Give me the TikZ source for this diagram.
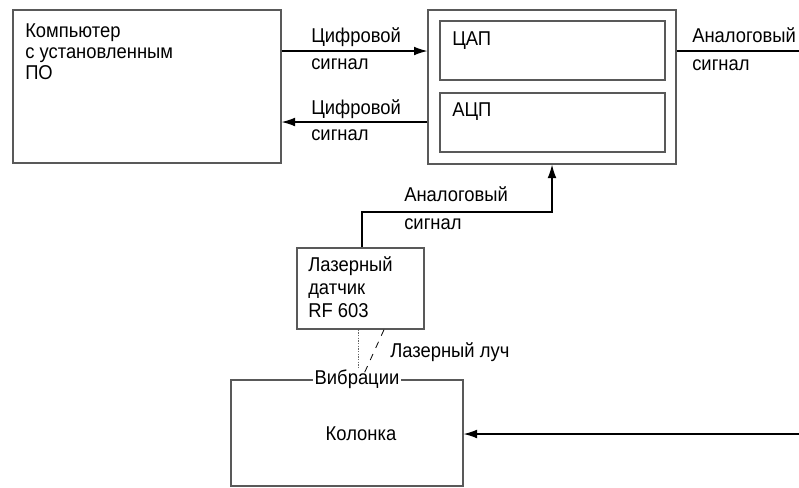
\documentclass[tikz,border=0pt]{standalone}
\usepackage{fontspec}
\setmainfont{Liberation Sans}[FakeStretch=0.92]
\usetikzlibrary{arrows.meta,fit}
\begin{document}
\begin{tikzpicture}[x=0.75pt,y=-0.75pt,
  box/.style={draw=black!65,line width=1pt,inner sep=0pt},
  lbl/.style={anchor=base west,inner sep=0pt,align=left,font=\fontsize{15}{19.5}\selectfont},
  txt/.style={anchor=base west,inner sep=0pt,align=left,font=\fontsize{15}{15.75}\selectfont},
  wire/.style={line width=0.8pt},
  arr/.style={wire,-{Latex[length=10pt,width=6.5pt]}}]
\useasboundingbox[fill=white] (0,0) rectangle (799,487);
% boxes
\node[box,fit={(13,10)(281,163)}] (comp) {};
\node[box,fit={(428,10)(676,164)}] (outer) {};
\node[box,fit={(440,21)(665,80)}] (dac) {};
\node[box,fit={(440,93)(665,152)}] (adc) {};
\node[box,fit={(297,248)(424,329)}] (sensor) {};
\node[box,fit={(231,380)(463,486)}] (kol) {};
% texts (anchor = baseline of the last line)
\node[txt] (tcomp) at (25,79) {Компьютер\\с установленным\\ПО};
\node[txt] (tdac) at (452,45) {ЦАП};
\node[txt] (tadc) at (452,116) {АЦП};
\node[txt,font=\fontsize{15}{16.9}\selectfont] (tsens) at (308,317) {Лазерный\\датчик\\RF 603};
\node[anchor=base,inner sep=0pt,font=\fontsize{15}{16}\selectfont] (tkol) at (361,440) {Колонка};
\node[lbl,font=\fontsize{15}{20.25}\selectfont] (l1) at (311,69) {Цифровой\\сигнал};
\node[lbl] (l2) at (311,140) {Цифровой\\сигнал};
\node[lbl,font=\fontsize{15}{21}\selectfont] (l3) at (692,70) {Аналоговый\\сигнал};
\node[lbl,font=\fontsize{15}{21}\selectfont] (l4) at (404,229) {Аналоговый\\сигнал};
\node[lbl] (l5) at (390,357) {Лазерный луч};
% connectors
\coordinate (y1) at (0,51);
\coordinate (y2) at (0,122);
\coordinate (rend) at (799,51);
\draw[arr] (comp.east |- y1) -- (outer.west |- y1);
\draw[arr] (outer.west |- y2) -- (comp.east |- y2);
\draw[wire] (outer.east |- y1) -- (rend);
\coordinate (bend) at (362,212);
\coordinate (up) at (552,212);
\draw[arr] (sensor.north -| bend) -- (bend) -- (up) -- (outer.south -| up);
\coordinate (rin) at (799,434);
\draw[arr] (rin) -- (kol.east |- rin);
% vibration label on the top border
\node[anchor=base,fill=white,inner xsep=1pt,inner ysep=1.5pt,font=\fontsize{15}{16}\selectfont] (vib) at (357,384) {Вибрации};
\coordinate (dx) at (358,0);
\draw[line width=0.7pt,black!60,dash pattern=on 0.9pt off 1.1pt] (sensor.south -| dx) -- (vib.north -| dx);
\coordinate (dstart) at (384,0);
\coordinate (dend) at (363,376);
\draw[line width=0.6pt,dash pattern=on 5pt off 5pt] (sensor.south -| dstart) -- (dend);
\end{tikzpicture}
\end{document}
